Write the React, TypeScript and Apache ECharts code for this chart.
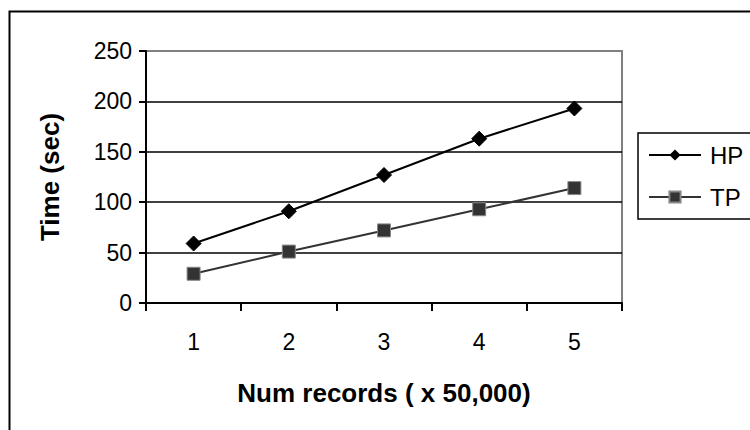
import React, { useEffect, useRef } from "react";
import * as echarts from "echarts";

const categories = ["1", "2", "3", "4", "5"];
const hpValues = [59, 91, 127, 163, 193];
const tpValues = [29, 51, 72, 93, 114];
const xTitle = "Num records ( x 50,000)";
const yTitle = "Time (sec)";

const FONT = "'Liberation Sans', Arial, sans-serif";

export default function App() {
  const ref = useRef<HTMLDivElement>(null);
  useEffect(() => {
    if (!ref.current) return;
    const chart = echarts.init(ref.current, undefined, { renderer: "svg" });
    chart.setOption({
      animation: false,
      backgroundColor: "#fff",
      textStyle: { fontFamily: FONT },
      graphic: [
        {
          type: "rect",
          left: 7,
          top: 9,
          shape: { width: 780, height: 460 },
          style: { fill: "none", stroke: "#000", lineWidth: 2 },
          silent: true,
          z: 100,
        },
      ],
      grid: {
        left: 146,
        right: 128,
        top: 51,
        bottom: 127,
        show: true,
        borderColor: "#808080",
        borderWidth: 2,
        backgroundColor: "transparent",
      },
      legend: {
        orient: "vertical",
        left: 638,
        top: 133,
        padding: [10, 9, 10, 10],
        borderColor: "#000",
        borderWidth: 1.5,
        itemWidth: 52,
        itemHeight: 14,
        itemGap: 18,
        textStyle: {
          fontFamily: FONT,
          fontSize: 24,
          lineHeight: 23,
          color: "#000",
          padding: [0, 0, 0, 4],
        },
        data: ["HP", "TP"],
      },
      xAxis: {
        type: "category",
        data: categories,
        boundaryGap: true,
        name: xTitle,
        nameLocation: "middle",
        nameGap: 77,
        nameTextStyle: { fontFamily: FONT, fontSize: 26, fontWeight: "bold", color: "#000" },
        axisLine: { show: true, lineStyle: { color: "#000", width: 2 } },
        axisTick: { show: true, length: 8, lineStyle: { color: "#000", width: 2 } },
        axisLabel: { fontFamily: FONT, fontSize: 23, color: "#000", margin: 27 },
        splitLine: { show: false },
      },
      yAxis: {
        type: "value",
        min: 0,
        max: 250,
        interval: 50,
        name: yTitle,
        nameLocation: "middle",
        nameGap: 83,
        nameTextStyle: { fontFamily: FONT, fontSize: 26, fontWeight: "bold", color: "#000" },
        axisLine: { show: true, lineStyle: { color: "#000", width: 2 } },
        axisTick: { show: true, length: 7, lineStyle: { color: "#000", width: 2 } },
        axisLabel: { fontFamily: FONT, fontSize: 23, color: "#000", margin: 14 },
        splitLine: {
          show: true,
          showMaxLine: false,
          lineStyle: { color: "#000", width: 1.5 },
        },
      },
      series: [
        {
          name: "HP",
          type: "line",
          data: hpValues,
          symbol: "diamond",
          symbolSize: 15,
          lineStyle: { color: "#000", width: 2 },
          itemStyle: { color: "#000", borderColor: "#000" },
          z: 3,
        },
        {
          name: "TP",
          type: "line",
          data: tpValues,
          symbol: "rect",
          symbolSize: 13,
          lineStyle: { color: "#333", width: 2 },
          itemStyle: { color: "#333", borderColor: "#888", borderWidth: 1 },
          z: 2,
        },
      ],
    });
    return () => chart.dispose();
  }, []);
  return <div ref={ref} style={{ width: 750, height: 430, position: "absolute", left: 0, top: 0 }} />;
}
